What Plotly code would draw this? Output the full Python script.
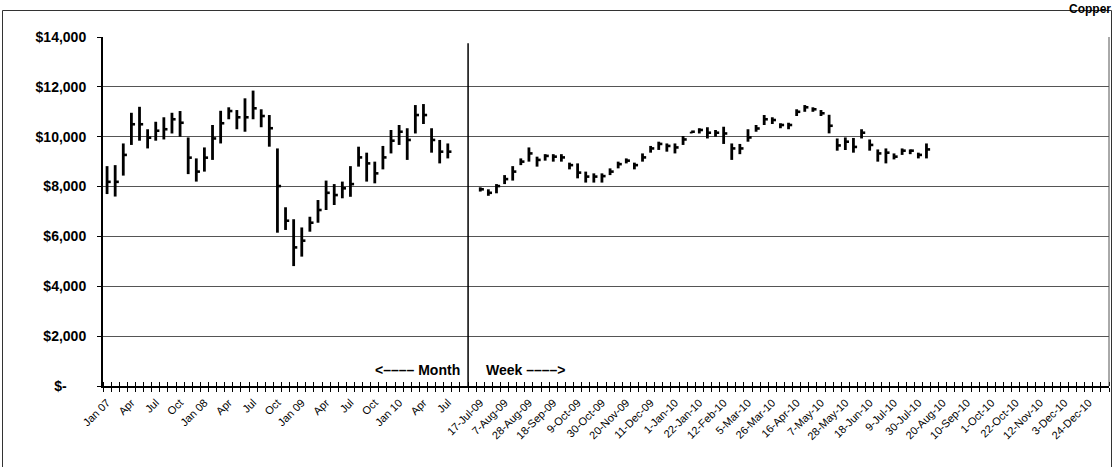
import plotly.graph_objects as go

# ---------------- data ----------------
month_tick_labels = ["Jan 07", "Apr", "Jul", "Oct", "Jan 08", "Apr", "Jul", "Oct",
                     "Jan 09", "Apr", "Jul", "Oct", "Jan 10", "Apr", "Jul"]
week_tick_labels = ["17-Jul-09", "7-Aug-09", "28-Aug-09", "18-Sep-09", "9-Oct-09",
                    "30-Oct-09", "20-Nov-09", "11-Dec-09", "1-Jan-10", "22-Jan-10",
                    "12-Feb-10", "5-Mar-10", "26-Mar-10", "16-Apr-10", "7-May-10",
                    "28-May-10", "18-Jun-10", "9-Jul-10", "30-Jul-10", "20-Aug-10",
                    "10-Sep-10", "1-Oct-10", "22-Oct-10", "12-Nov-10", "3-Dec-10",
                    "24-Dec-10"]

# Monthly bars, Jan 07 .. Jul 10
month_high = [8820, 8860, 9730, 10960, 11200, 10300, 10600, 10780, 10960, 11030,
              9970, 9130, 9570, 10470, 11040, 11180, 11070, 11540, 11850, 11100,
              10870, 9530, 7170, 6690, 6360, 6790, 7460, 8240, 8100, 8200,
              8820, 9600, 9360, 9000, 9630, 10270, 10470, 10340, 11270, 11310,
              10340, 9870, 9730]
month_low = [7700, 7600, 8440, 9670, 9840, 9530, 9840, 9890, 10130, 10000,
             8500, 8200, 8600, 9070, 9730, 10700, 10300, 10200, 10700, 10380,
             9600, 6150, 6260, 4810, 5190, 6190, 6550, 7060, 7260, 7530,
             7590, 8800, 8200, 8130, 8690, 9330, 9670, 9070, 10130, 10510,
             9360, 8930, 9130]
month_close = [8190, 8190, 9270, 10500, 10500, 9960, 10240, 10300, 10700, 10560,
               9160, 8600, 9160, 9930, 10540, 11030, 10780, 10780, 11140, 10830,
               10340, 8020, 6630, 5560, 5830, 6550, 7060, 7750, 7660, 7930,
               8100, 9170, 8930, 8530, 9170, 9840, 10200, 9870, 10870, 10870,
               9870, 9400, 9400]

# Weekly bars, from week of 17-Jul-09
week_high = [7970, 7890, 8100, 8460, 8820, 9130, 9570, 9200, 9300,
             9300, 9300, 8960, 8930, 8600, 8530, 8530, 8730, 9000, 9130,
             8960, 9330, 9630, 9800, 9730, 9730, 10030, 10200, 10340, 10380,
             10270, 10400, 9730, 9710, 10300, 10470, 10870, 10780, 10540, 10560,
             11100, 11270, 11180, 11070, 10880, 9930, 9970, 9950, 10300, 9890,
             9490, 9530, 9330, 9530, 9490, 9360, 9730]
week_low = [7800, 7630, 7730, 8100, 8240, 8860, 9000, 8800, 9040,
            9000, 9000, 8690, 8330, 8160, 8160, 8160, 8460, 8730, 8930,
            8690, 9000, 9360, 9470, 9400, 9330, 9670, 10130, 10130, 9930,
            10000, 9710, 9070, 9300, 9800, 10200, 10470, 10510, 10340, 10300,
            10830, 11000, 11000, 10830, 10134, 9440, 9466, 9360, 9930, 9440,
            9000, 8930, 9090, 9270, 9300, 9130, 9130]
week_close = [7890, 7750, 8020, 8300, 8600, 9000, 9330, 9070, 9230,
              9200, 9170, 8860, 8560, 8400, 8400, 8420, 8600, 8900, 9040,
              8860, 9170, 9530, 9710, 9630, 9570, 9890, 10200, 10270, 10160,
              10160, 10130, 9530, 9530, 9970, 10330, 10700, 10670, 10470, 10470,
              11000, 11180, 11100, 10940, 10440, 9650, 9800, 9590, 10160, 9670,
              9330, 9360, 9200, 9440, 9440, 9270, 9490]

# ---------------- layout constants ----------------
N_MONTH_SLOTS = 45      # Jan 07 .. Sep 10
N_GAP_SLOTS = 1         # blank slot after the divider
N_WEEK_SLOTS = 78       # 17-Jul-09 .. 7-Jan-11
LABEL_STEP = 3
DIVIDER_TOP = 13750
CLOSE_TICK = 0.45
FONT = "Liberation Sans, Arial, sans-serif"
WEEK_START = N_MONTH_SLOTS + N_GAP_SLOTS


def hlc_paths(start, highs, lows, closes):
    xv, yv, xc, yc = [], [], [], []
    for k, (h, l, c) in enumerate(zip(highs, lows, closes)):
        if h is None:
            continue
        x = start + k
        xv += [x, x, None]
        yv += [l, h, None]
        xc += [x, x + CLOSE_TICK, None]
        yc += [c, c, None]
    return xv, yv, xc, yc


fig = go.Figure()

for start, hi, lo, cl in [(0, month_high, month_low, month_close),
                          (WEEK_START, week_high, week_low, week_close)]:
    xv, yv, xc, yc = hlc_paths(start, hi, lo, cl)
    fig.add_trace(go.Scatter(x=xv, y=yv, mode="lines",
                             line=dict(color="black", width=2.8),
                             hoverinfo="skip", showlegend=False))
    fig.add_trace(go.Scatter(x=xc, y=yc, mode="lines",
                             line=dict(color="black", width=2.6),
                             hoverinfo="skip", showlegend=False))

# divider between monthly and weekly sections
fig.add_trace(go.Scatter(x=[N_MONTH_SLOTS - 0.5, N_MONTH_SLOTS - 0.5],
                         y=[0, DIVIDER_TOP], mode="lines",
                         line=dict(color="black", width=1.5),
                         hoverinfo="skip", showlegend=False))

# helper trace for the inner half of the crossing ticks
fig.add_trace(go.Scatter(x=[None], y=[None], xaxis="x2", mode="lines",
                         hoverinfo="skip", showlegend=False))

n_total = N_MONTH_SLOTS + N_GAP_SLOTS + N_WEEK_SLOTS
tickvals = [i * LABEL_STEP for i in range(len(month_tick_labels))] + \
           [WEEK_START + i * LABEL_STEP for i in range(len(week_tick_labels))]
ticktext = month_tick_labels + week_tick_labels

y_vals = list(range(0, 14001, 2000))
y_text = ["$-" + "\u00a0" * 5] + ["${:,}".format(v) for v in y_vals[1:]]

fig.update_layout(
    width=1115, height=467, autosize=False,
    margin=dict(l=103, r=6, t=37, b=81),
    paper_bgcolor="white", plot_bgcolor="white",
    font=dict(family=FONT, color="black"),
    xaxis=dict(range=[-0.5, n_total - 0.5], tickmode="array", automargin=False,
               tickvals=tickvals, ticktext=ticktext, tickangle=-45,
               tickfont=dict(size=11, family=FONT, color="black"),
               ticks="outside", ticklen=4, tickcolor="rgba(0,0,0,0)",
               showline=True, linecolor="black", linewidth=2,
               showgrid=False, zeroline=False,
               minor=dict(tickmode="linear", tick0=-0.5, dtick=1,
                          ticks="outside", ticklen=4, tickcolor="black",
                          tickwidth=1, showgrid=False)),
    xaxis2=dict(range=[-0.5, n_total - 0.5], overlaying="x", anchor="y",
                side="bottom", showticklabels=False, showline=False,
                automargin=False,
                showgrid=False, zeroline=False, tickmode="array", tickvals=[],
                minor=dict(tickmode="linear", tick0=-0.5, dtick=1,
                           ticks="inside", ticklen=4, tickcolor="black",
                           tickwidth=1, showgrid=False)),
    yaxis=dict(range=[0, 14000], tickmode="array", tickvals=y_vals,
               ticktext=y_text, automargin=False,
               tickfont=dict(size=14, family=FONT, color="black", weight="bold"),
               ticks="outside", ticklen=4, tickcolor="black",
               ticklabelstandoff=8,
               showline=True, linecolor="black", linewidth=2,
               showgrid=True, gridcolor="#555555", gridwidth=1,
               zeroline=False),
    shapes=[
        dict(type="line", xref="paper", yref="paper", x0=1, x1=1, y0=0, y1=1,
             line=dict(color="#555555", width=1)),
        dict(type="rect", xref="paper", yref="paper",
             x0=(2.5 - 103) / 1006, x1=(1111.5 - 103) / 1006,
             y0=(386 - 480) / 349, y1=(386 - 10.5) / 349,
             line=dict(color="#333333", width=1), layer="below"),
    ],
    annotations=[
        dict(text="<b>\u003c\u2013\u2013\u2013\u2013 Month</b>", x=N_MONTH_SLOTS - 1.3,
             y=650, xref="x", yref="y", xanchor="right", yanchor="middle",
             showarrow=False, font=dict(size=14, family=FONT, color="black")),
        dict(text="<b>Week \u2013\u2013\u2013\u2013\u003e</b>", x=WEEK_START + 0.5,
             y=650, xref="x", yref="y", xanchor="left", yanchor="middle",
             showarrow=False, font=dict(size=14, family=FONT, color="black")),
        dict(text="<b>Copper</b>", x=(1112 - 103) / 1006, y=(386 - 1) / 349,
             xref="paper", yref="paper", xanchor="right", yanchor="top",
             borderpad=0,
             showarrow=False, font=dict(size=12, family=FONT, color="black")),
    ],
)

fig.write_html("out.html",
               config={"displayModeBar": False},
               post_script="document.body.style.margin='0';"
                           "document.body.style.padding='0';")
